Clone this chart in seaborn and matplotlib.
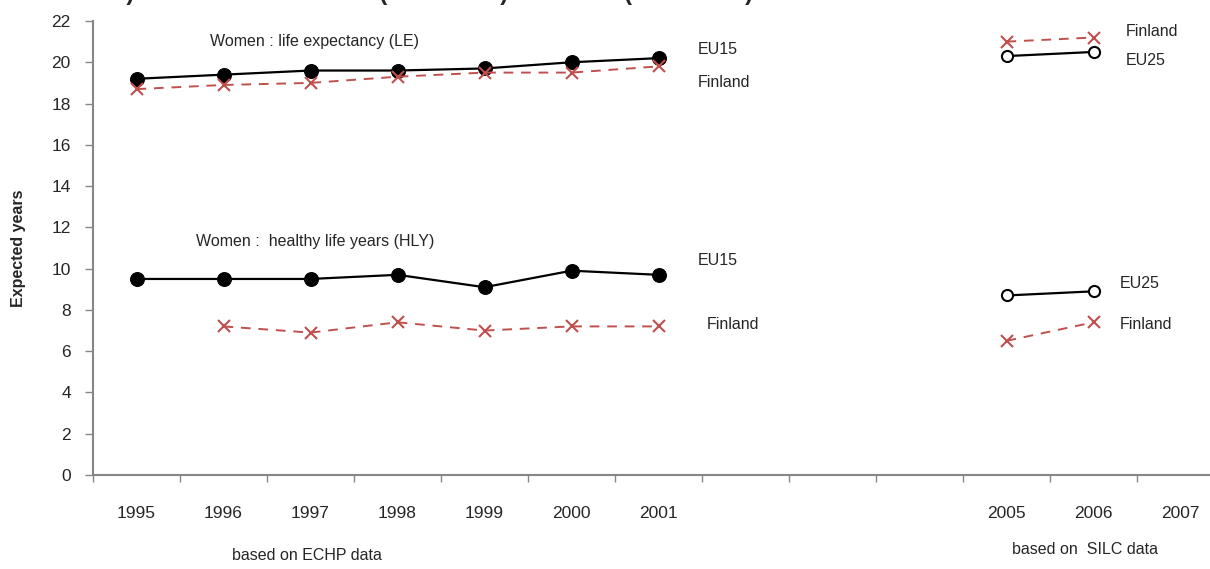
import pandas as pd
import matplotlib.pyplot as plt
import seaborn as sns

# categories on the x axis (2002-2004 are empty slots)
years = [1995, 1996, 1997, 1998, 1999, 2000, 2001, 2002, 2003, 2004, 2005, 2006, 2007]
year_labels = ["1995", "1996", "1997", "1998", "1999", "2000", "2001", "", "", "", "2005", "2006", "2007"]

echp_years = [1995, 1996, 1997, 1998, 1999, 2000, 2001]
silc_years = [2005, 2006]

# life expectancy (LE)
le_eu15 = [19.2, 19.4, 19.6, 19.6, 19.7, 20.0, 20.2]
le_fin_echp = [18.7, 18.9, 19.0, 19.3, 19.5, 19.5, 19.8]
le_eu25 = [20.3, 20.5]
le_fin_silc = [21.0, 21.2]

# healthy life years (HLY)
hly_eu15 = [9.5, 9.5, 9.5, 9.7, 9.1, 9.9, 9.7]
hly_fin_years = [1996, 1997, 1998, 1999, 2000, 2001]
hly_fin_echp = [7.2, 6.9, 7.4, 7.0, 7.2, 7.2]
hly_eu25 = [8.7, 8.9]
hly_fin_silc = [6.5, 7.4]

red = "#C0504D"
grey = "#868686"

sns.set_style("white")
plt.rcParams["font.family"] = ["Liberation Sans", "DejaVu Sans"]

fig = plt.figure(figsize=(12.1, 5.69), dpi=100)
ax = fig.add_axes([93 / 1210, 94 / 569, 1131 / 1210, 454 / 569])


def draw(xs, ys, kind):
    df = pd.DataFrame({"year": xs, "value": ys})
    if kind == "eu15":
        sns.lineplot(data=df, x="year", y="value", ax=ax, color="black", lw=1.6,
                     marker="o", markersize=10, markerfacecolor="black", markeredgecolor="black")
    elif kind == "eu25":
        sns.lineplot(data=df, x="year", y="value", ax=ax, color="black", lw=1.6,
                     marker="o", markersize=8, markerfacecolor="white", markeredgecolor="black",
                     markeredgewidth=1.5)
    else:
        sns.lineplot(data=df, x="year", y="value", ax=ax, color=red, lw=1.4,
                     linestyle=(0, (5, 4)), marker="x", markersize=8, markeredgewidth=1.5,
                     markeredgecolor=red)


draw(echp_years, le_eu15, "eu15")
draw(echp_years, le_fin_echp, "fin")
draw(silc_years, le_eu25, "eu25")
draw(silc_years, le_fin_silc, "fin")
draw(echp_years, hly_eu15, "eu15")
draw(hly_fin_years, hly_fin_echp, "fin")
draw(silc_years, hly_eu25, "eu25")
draw(silc_years, hly_fin_silc, "fin")

ax.set_xlim(years[0] - 0.5, years[-1] + 0.5)
ax.set_ylim(0, 22)
ax.set_yticks(range(0, 23, 2))
ax.set_xticks(years)
ax.set_xticklabels(year_labels)
ax.set_xticks([y - 0.5 for y in years] + [years[-1] + 0.5], minor=True)
ax.tick_params(axis="x", which="major", length=0, pad=22, labelsize=12.5)
ax.tick_params(axis="x", which="minor", length=5, width=1, color=grey, direction="out")
ax.tick_params(axis="y", length=6, width=1, color=grey, direction="out", labelsize=12.5, pad=10)
ax.yaxis.set_ticks_position("left")
ax.xaxis.set_ticks_position("bottom")
for side in ["top", "right"]:
    ax.spines[side].set_visible(False)
for side in ["left", "bottom"]:
    ax.spines[side].set_color(grey)
    ax.spines[side].set_linewidth(1.5)

ax.set_xlabel("")
ax.set_ylabel("Expected years", fontsize=11.5, fontweight="bold", labelpad=18)

fs = 11.5
ax.text(1997.05, 21.0, "Women : life expectancy (LE)", fontsize=fs, ha="center", va="center")
ax.text(1997.05, 11.3, "Women :  healthy life years (HLY)", fontsize=fs, ha="center", va="center")
ax.text(2001.45, 20.6, "EU15", fontsize=fs, va="center")
ax.text(2001.45, 19.0, "Finland", fontsize=fs, va="center")
ax.text(2006.37, 21.5, "Finland", fontsize=fs, va="center")
ax.text(2006.37, 20.1, "EU25", fontsize=fs, va="center")
ax.text(2001.45, 10.4, "EU15", fontsize=fs, va="center")
ax.text(2001.55, 7.3, "Finland", fontsize=fs, va="center")
ax.text(2006.3, 9.3, "EU25", fontsize=fs, va="center")
ax.text(2006.3, 7.3, "Finland", fontsize=fs, va="center")

fig.text(307 / 1210, 1 - 555 / 569, "based on ECHP data", fontsize=fs, ha="center", va="center")
fig.text(1085 / 1210, 1 - 550 / 569, "based on  SILC data", fontsize=fs, ha="center", va="center")

# chart title, cropped at the top edge of the picture
fig.text(112 / 1210, 1.0, "b) Women at 65 : ECHP (1995-2001) and SILC (2005-2006)",
         fontsize=17, fontweight="bold", va="baseline")

fig.savefig("out.png", dpi=100)
